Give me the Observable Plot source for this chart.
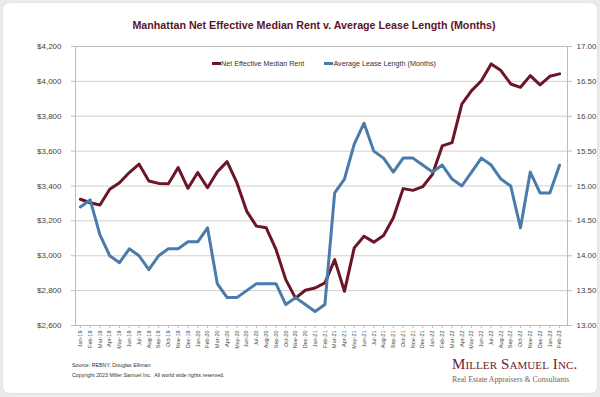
<!DOCTYPE html>
<html><head><meta charset="utf-8">
<script src="https://cdn.jsdelivr.net/npm/d3@7"></script>
<script src="https://cdn.jsdelivr.net/npm/@observablehq/plot@0.6"></script>
<style>
html,body{margin:0;padding:0;width:600px;height:397px;background:#ebebeb;overflow:hidden;font-family:"Liberation Sans",Arial,sans-serif;}
#card{position:absolute;left:3px;top:3px;width:594px;height:390px;background:#fff;border-radius:6px;box-shadow:0 0 2px rgba(0,0,0,0.12);}
#title{position:absolute;left:0;top:19px;width:628px;text-align:center;font-family:"Liberation Sans Narrow","Liberation Sans",sans-serif;font-weight:bold;font-size:10.7px;color:#5a1528;}
#chart{position:absolute;left:0;top:36px;}
#legend{position:absolute;top:58.5px;left:212px;font-family:"Liberation Sans Narrow","Liberation Sans",sans-serif;font-size:7.2px;color:#333;white-space:nowrap;}
#legend span.sw{display:inline-block;width:9px;height:3px;vertical-align:middle;margin-right:0px;}
#legend span.item{display:inline-block;}
#footer{position:absolute;left:72px;top:360px;font-size:5.3px;color:#333;line-height:10px;}
#logo{position:absolute;left:452px;top:356px;font-family:"Liberation Serif","DejaVu Serif",serif;}
#logo .l1{font-size:15px;font-variant:small-caps;color:#6e1a2c;letter-spacing:0.1px;line-height:16px;}
#logo .l2{font-size:7.8px;color:#666;line-height:16px;}
</style></head><body>
<div id="card"></div>
<div id="title">Manhattan Net Effective Median Rent v. Average Lease Length (Months)</div>
<div id="chart"></div>
<div id="legend"></div>
<div id="footer">Source: REBNY, Douglas Elliman<br>Copyright 2023 Miller Samuel Inc.&nbsp; All world wide rights reserved.</div>
<div id="logo"><div class="l1">Miller Samuel Inc.</div><div class="l2">Real Estate Appraisers &amp; Consultants</div></div>
<script>
const months = ["Jan-19","Feb-19","Mar-19","Apr-19","May-19","Jun-19","Jul-19","Aug-19","Sep-19","Oct-19","Nov-19","Dec-19",
"Jan-20","Feb-20","Mar-20","Apr-20","May-20","Jun-20","Jul-20","Aug-20","Sep-20","Oct-20","Nov-20","Dec-20",
"Jan-21","Feb-21","Mar-21","Apr-21","May-21","Jun-21","Jul-21","Aug-21","Sep-21","Oct-21","Nov-21","Dec-21",
"Jan-22","Feb-22","Mar-22","Apr-22","May-22","Jun-22","Jul-22","Aug-22","Sep-22","Oct-22","Nov-22","Dec-22",
"Jan-23","Feb-23"];
const rent = [3324,3304,3291,3381,3419,3477,3525,3429,3415,3413,3506,3387,
3477,3390,3482,3540,3419,3256,3170,3160,3036,2863,2757,2802,
2815,2844,2978,2796,3045,3112,3078,3116,3218,3385,3375,3396,
3467,3630,3649,3870,3947,4004,4100,4062,3985,3966,4033,3980,
4029,4043];
const lease = [14.7,14.8,14.3,14.0,13.9,14.1,14.0,13.8,14.0,14.1,14.1,14.2,
14.2,14.4,13.6,13.4,13.4,13.5,13.6,13.6,13.6,13.3,13.4,13.3,
13.2,13.3,14.9,15.1,15.6,15.9,15.5,15.4,15.2,15.4,15.4,15.3,
15.2,15.3,15.1,15.0,15.2,15.4,15.3,15.1,15.0,14.4,15.2,14.9,
14.9,15.3];
const rentTicks = [2600,2800,3000,3200,3400,3600,3800,4000,4200];
const leaseTicks = [13,13.5,14,14.5,15,15.5,16,16.5,17];
const seriesNames = ["Net Effective Median Rent","Average Lease Length (Months)"];
const colors = ["#6b1527","#4a7bab"];

// map lease (13..17) onto the rent axis (2600..4200)
const leaseToRent = v => 2600 + (v - 13) * 400;
const rentToLease = v => 13 + (v - 2600) / 400;

const rentData = months.map((m,i)=>({m, v: rent[i]}));
const leaseData = months.map((m,i)=>({m, v: leaseToRent(lease[i])}));

const narrow = "Liberation Sans Narrow, Liberation Sans, sans-serif";
const chart = Plot.plot({
  width: 600, height: 316,
  marginTop: 10, marginBottom: 27, marginLeft: 75, marginRight: 33,
  style: {background: "transparent", fontFamily: "Liberation Sans, Arial, sans-serif", color: "#444"},
  x: {type: "point", domain: months, range: [75, 564]},
  y: {domain: [2600, 4200]},
  marks: [
    Plot.gridY(rentTicks, {stroke: "#cfcfcf", strokeOpacity: 1}),
    Plot.frame({stroke: "#bdbdbd"}),
    Plot.axisY(rentTicks, {anchor: "left", tickFormat: d3.format("$,"), fontSize: 8, fontFamily: narrow, tickSize: 4, tickPadding: 10, stroke: "#bdbdbd", label: null}),
    Plot.axisY(leaseTicks.map(leaseToRent), {anchor: "right", tickFormat: d => rentToLease(d).toFixed(2), fontSize: 8, fontFamily: narrow, tickSize: 4, tickPadding: 5, stroke: "#bdbdbd", label: null}),
    Plot.axisX({tickRotate: -90, fontSize: 5.5, tickSize: 3, tickPadding: 2, stroke: "#bdbdbd", label: null}),
    Plot.lineY(rentData, {x: "m", y: "v", stroke: colors[0], strokeWidth: 3, strokeLinejoin: "round"}),
    Plot.lineY(leaseData, {x: "m", y: "v", stroke: colors[1], strokeWidth: 3, strokeLinejoin: "round"})
  ]
});
document.getElementById("chart").appendChild(chart);

const lg = document.getElementById("legend");
seriesNames.forEach((n,i)=>{
  const it = document.createElement("span");
  it.className = "item";
  it.style.marginRight = i === 0 ? "20px" : "0";
  it.innerHTML = `<span class="sw" style="background:${colors[i]}"></span>${n}`;
  lg.appendChild(it);
});
</script>
</body></html>
